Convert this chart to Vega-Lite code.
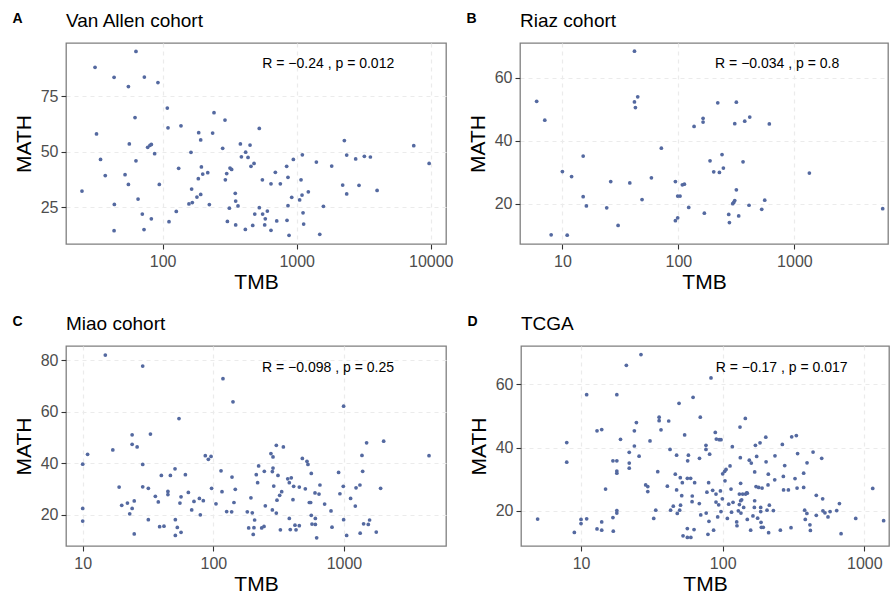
{
"$schema": "https://vega.github.io/schema/vega-lite/v6.json",
"padding": {"left": 12, "top": 11, "right": 0, "bottom": 0},
"background": "white",
"config": {
  "font": "Liberation Sans",
  "view": {"stroke": "#7f7f7f", "strokeWidth": 1.3},
  "axis": {"grid": true, "gridColor": "#EBEBEB", "gridDash": [4, 4], "gridWidth": 1.2, "domain": false, "tickColor": "#333333", "tickSize": 5, "tickWidth": 1.1, "labelFontSize": 16, "labelColor": "#4D4D4D", "titleFontSize": 21, "titleFontWeight": "normal", "titleColor": "#000000"},
  "axisX": {"labelPadding": 4, "titlePadding": 2},
  "axisY": {"labelPadding": 3, "titlePadding": 6},
  "title": {"anchor": "start", "color": "#000000"}
},
"datasets": {
  "A": [{"TMB":25,"MATH":32.2},{"TMB":31.3,"MATH":88.1},{"TMB":32.1,"MATH":58.0},{"TMB":34.4,"MATH":46.5},{"TMB":37.3,"MATH":39.2},{"TMB":43.4,"MATH":83.6},{"TMB":43.6,"MATH":26.2},{"TMB":43.4,"MATH":14.3},{"TMB":52.4,"MATH":39.6},{"TMB":55.5,"MATH":79.4},{"TMB":55.5,"MATH":35.2},{"TMB":56.4,"MATH":53.5},{"TMB":62.2,"MATH":65.4},{"TMB":63.2,"MATH":95.3},{"TMB":63.2,"MATH":45.9},{"TMB":65.5,"MATH":28.6},{"TMB":70.5,"MATH":21.8},{"TMB":72.6,"MATH":14.8},{"TMB":73.0,"MATH":83.7},{"TMB":77.3,"MATH":52.0},{"TMB":80.4,"MATH":52.9},{"TMB":82.3,"MATH":53.3},{"TMB":82.3,"MATH":19.7},{"TMB":87.1,"MATH":49.1},{"TMB":92.2,"MATH":81.2},{"TMB":94.4,"MATH":35.2},{"TMB":108.3,"MATH":69.7},{"TMB":109.6,"MATH":60.8},{"TMB":111.5,"MATH":18.4},{"TMB":126.4,"MATH":23.0},{"TMB":131.6,"MATH":42.5},{"TMB":137,"MATH":61.7},{"TMB":157,"MATH":26.4},{"TMB":162.6,"MATH":49.7},{"TMB":164.5,"MATH":33.1},{"TMB":166.4,"MATH":27.0},{"TMB":180.2,"MATH":29.5},{"TMB":184.5,"MATH":37.8},{"TMB":185.7,"MATH":58.6},{"TMB":192.2,"MATH":30.7},{"TMB":192.2,"MATH":55.3},{"TMB":194.5,"MATH":43.1},{"TMB":199,"MATH":39.9},{"TMB":216.9,"MATH":40.5},{"TMB":223,"MATH":26.1},{"TMB":236,"MATH":58.4},{"TMB":241.6,"MATH":67.6},{"TMB":280.4,"MATH":51.5},{"TMB":291.8,"MATH":64.3},{"TMB":293.5,"MATH":37.3},{"TMB":300.4,"MATH":40.1},{"TMB":304,"MATH":18.5},{"TMB":314.6,"MATH":24.5},{"TMB":318,"MATH":42.6},{"TMB":327,"MATH":42.0},{"TMB":348,"MATH":31.2},{"TMB":350.5,"MATH":27.7},{"TMB":350.5,"MATH":16.9},{"TMB":364.9,"MATH":25.5},{"TMB":380,"MATH":53.5},{"TMB":386.7,"MATH":47.7},{"TMB":414,"MATH":14.9},{"TMB":416,"MATH":49.8},{"TMB":433.5,"MATH":47.4},{"TMB":448.6,"MATH":53.0},{"TMB":456,"MATH":43.4},{"TMB":469.8,"MATH":16.7},{"TMB":480.6,"MATH":44.7},{"TMB":486.5,"MATH":21.8},{"TMB":526,"MATH":60.5},{"TMB":526,"MATH":24.7},{"TMB":554.6,"MATH":37.3},{"TMB":557,"MATH":21.8},{"TMB":577,"MATH":16.9},{"TMB":583,"MATH":19.7},{"TMB":604,"MATH":23.2},{"TMB":643,"MATH":35.5},{"TMB":643,"MATH":14.5},{"TMB":693,"MATH":40.7},{"TMB":709.6,"MATH":18.7},{"TMB":755,"MATH":35.5},{"TMB":841.6,"MATH":43.4},{"TMB":846.6,"MATH":19.0},{"TMB":861,"MATH":38.4},{"TMB":861,"MATH":25.6},{"TMB":877,"MATH":12.2},{"TMB":918,"MATH":29.4},{"TMB":944,"MATH":46.5},{"TMB":1052,"MATH":28.2},{"TMB":1077,"MATH":37.3},{"TMB":1096,"MATH":30.4},{"TMB":1102,"MATH":48.6},{"TMB":1115,"MATH":22.4},{"TMB":1127,"MATH":17.3},{"TMB":1221,"MATH":31.9},{"TMB":1402,"MATH":45.3},{"TMB":1486,"MATH":12.7},{"TMB":1582,"MATH":25.3},{"TMB":1825,"MATH":43.5},{"TMB":2203,"MATH":34.9},{"TMB":2268,"MATH":55.0},{"TMB":2361,"MATH":48.5},{"TMB":2361,"MATH":30.9},{"TMB":2754,"MATH":46.7},{"TMB":2917,"MATH":34.8},{"TMB":3198,"MATH":47.9},{"TMB":3547,"MATH":47.6},{"TMB":3980,"MATH":32.5},{"TMB":7470,"MATH":52.7},{"TMB":9730,"MATH":44.7}],
  "B": [{"TMB":6.0,"MATH":52.6},{"TMB":7.05,"MATH":46.6},{"TMB":8.0,"MATH":10.2},{"TMB":10,"MATH":30.3},{"TMB":11.0,"MATH":10.1},{"TMB":12.0,"MATH":28.7},{"TMB":15.1,"MATH":35.2},{"TMB":15.1,"MATH":22.3},{"TMB":16.1,"MATH":19.4},{"TMB":24.1,"MATH":18.8},{"TMB":26.1,"MATH":27.1},{"TMB":30.2,"MATH":13.2},{"TMB":38.1,"MATH":26.7},{"TMB":41.8,"MATH":68.5},{"TMB":41.8,"MATH":52.4},{"TMB":42.6,"MATH":50.6},{"TMB":44.6,"MATH":54.0},{"TMB":48.6,"MATH":21.4},{"TMB":58.5,"MATH":28.3},{"TMB":71.3,"MATH":37.7},{"TMB":94.2,"MATH":27.1},{"TMB":94.2,"MATH":14.7},{"TMB":98.6,"MATH":15.6},{"TMB":98.6,"MATH":22.5},{"TMB":103.3,"MATH":22.5},{"TMB":108.2,"MATH":26.1},{"TMB":112.6,"MATH":26.3},{"TMB":122.8,"MATH":18.9},{"TMB":136.5,"MATH":44.6},{"TMB":163.2,"MATH":46.0},{"TMB":163.2,"MATH":47.2},{"TMB":167.4,"MATH":17.1},{"TMB":187.4,"MATH":33.7},{"TMB":201.6,"MATH":30.2},{"TMB":218.4,"MATH":52.1},{"TMB":225.8,"MATH":30.0},{"TMB":237.8,"MATH":35.7},{"TMB":244.2,"MATH":31.4},{"TMB":271.6,"MATH":16.7},{"TMB":275.3,"MATH":14.1},{"TMB":294,"MATH":20.1},{"TMB":299.8,"MATH":20.5},{"TMB":306,"MATH":45.5},{"TMB":306,"MATH":21.1},{"TMB":316,"MATH":52.3},{"TMB":316,"MATH":24.5},{"TMB":331,"MATH":16.2},{"TMB":360.8,"MATH":33.4},{"TMB":373,"MATH":46.3},{"TMB":406.5,"MATH":19.6},{"TMB":412,"MATH":47.6},{"TMB":523,"MATH":18.3},{"TMB":555,"MATH":21.2},{"TMB":608,"MATH":45.4},{"TMB":1346,"MATH":29.8},{"TMB":5770,"MATH":18.5}],
  "C": [{"TMB":10,"MATH":17.6},{"TMB":10,"MATH":22.5},{"TMB":10,"MATH":39.7},{"TMB":10.9,"MATH":43.5},{"TMB":14.9,"MATH":82.1},{"TMB":17.0,"MATH":45.2},{"TMB":19.0,"MATH":30.8},{"TMB":19.9,"MATH":23.7},{"TMB":22.0,"MATH":24.6},{"TMB":22.9,"MATH":20.4},{"TMB":23.9,"MATH":51.1},{"TMB":23.9,"MATH":47.4},{"TMB":23.9,"MATH":22.5},{"TMB":24.8,"MATH":25.4},{"TMB":24.8,"MATH":12.6},{"TMB":26.1,"MATH":46.4},{"TMB":28.8,"MATH":77.8},{"TMB":28.8,"MATH":39.6},{"TMB":28.8,"MATH":30.9},{"TMB":31.8,"MATH":30.3},{"TMB":31.8,"MATH":18.1},{"TMB":33.0,"MATH":51.4},{"TMB":36.0,"MATH":27.2},{"TMB":37.9,"MATH":25.0},{"TMB":38.8,"MATH":15.4},{"TMB":40.0,"MATH":35.3},{"TMB":41.9,"MATH":15.6},{"TMB":44.9,"MATH":29.1},{"TMB":44.9,"MATH":27.9},{"TMB":46.9,"MATH":35.3},{"TMB":50.9,"MATH":37.9},{"TMB":51.2,"MATH":12.0},{"TMB":51.2,"MATH":18.1},{"TMB":53.0,"MATH":15.1},{"TMB":54.6,"MATH":57.4},{"TMB":55.5,"MATH":24.6},{"TMB":56.6,"MATH":13.2},{"TMB":56.6,"MATH":27.0},{"TMB":61.1,"MATH":35.6},{"TMB":64.4,"MATH":28.7},{"TMB":68.3,"MATH":21.9},{"TMB":71.1,"MATH":25.2},{"TMB":78.2,"MATH":26.4},{"TMB":79.5,"MATH":20.0},{"TMB":83.8,"MATH":25.5},{"TMB":86.8,"MATH":43.0},{"TMB":91.6,"MATH":41.6},{"TMB":96.0,"MATH":42.7},{"TMB":97.0,"MATH":30.3},{"TMB":104.8,"MATH":24.3},{"TMB":114.5,"MATH":37.1},{"TMB":116.5,"MATH":29.0},{"TMB":118.5,"MATH":72.9},{"TMB":126.5,"MATH":21.3},{"TMB":138.1,"MATH":21.2},{"TMB":139,"MATH":34.7},{"TMB":141.4,"MATH":63.9},{"TMB":143.8,"MATH":24.8},{"TMB":147.3,"MATH":29.9},{"TMB":182,"MATH":21.2},{"TMB":186.4,"MATH":14.9},{"TMB":194,"MATH":26.6},{"TMB":198.7,"MATH":20.8},{"TMB":202,"MATH":12.4},{"TMB":204.6,"MATH":15.0},{"TMB":207,"MATH":18.0},{"TMB":213.2,"MATH":35.6},{"TMB":218.3,"MATH":32.5},{"TMB":222.2,"MATH":39.0},{"TMB":234.4,"MATH":14.9},{"TMB":244.3,"MATH":15.5},{"TMB":245.6,"MATH":36.9},{"TMB":250,"MATH":23.5},{"TMB":276,"MATH":43.8},{"TMB":283,"MATH":36.8},{"TMB":286.3,"MATH":42.5},{"TMB":286.3,"MATH":38.2},{"TMB":290,"MATH":31.2},{"TMB":283,"MATH":21.9},{"TMB":303.5,"MATH":47.0},{"TMB":303.5,"MATH":20.7},{"TMB":307,"MATH":25.7},{"TMB":312.6,"MATH":35.3},{"TMB":322,"MATH":27.6},{"TMB":333.6,"MATH":29.0},{"TMB":326,"MATH":14.2},{"TMB":343.6,"MATH":46.4},{"TMB":371,"MATH":34.0},{"TMB":381.6,"MATH":32.5},{"TMB":381.6,"MATH":18.6},{"TMB":388,"MATH":14.3},{"TMB":395,"MATH":34.4},{"TMB":407,"MATH":25.9},{"TMB":412,"MATH":31.1},{"TMB":421.7,"MATH":16.0},{"TMB":429.5,"MATH":14.2},{"TMB":455,"MATH":30.8},{"TMB":455,"MATH":15.8},{"TMB":480,"MATH":41.9},{"TMB":506,"MATH":30.1},{"TMB":521,"MATH":40.8},{"TMB":530,"MATH":39.6},{"TMB":543,"MATH":24.8},{"TMB":556,"MATH":24.8},{"TMB":562,"MATH":36.1},{"TMB":562,"MATH":19.8},{"TMB":569,"MATH":16.4},{"TMB":600,"MATH":28.5},{"TMB":604,"MATH":18.6},{"TMB":604,"MATH":16.3},{"TMB":618,"MATH":11.1},{"TMB":644,"MATH":28.1},{"TMB":655,"MATH":31.6},{"TMB":711,"MATH":24.2},{"TMB":796,"MATH":21.5},{"TMB":810,"MATH":15.2},{"TMB":910,"MATH":36.5},{"TMB":931,"MATH":28.2},{"TMB":988,"MATH":31.1},{"TMB":994,"MATH":62.2},{"TMB":994,"MATH":18.1},{"TMB":1048,"MATH":12.0},{"TMB":1124,"MATH":26.4},{"TMB":1221,"MATH":23.4},{"TMB":1237,"MATH":30.5},{"TMB":1325,"MATH":31.6},{"TMB":1330,"MATH":12.9},{"TMB":1373,"MATH":43.1},{"TMB":1390,"MATH":36.9},{"TMB":1414,"MATH":16.5},{"TMB":1490,"MATH":48.0},{"TMB":1535,"MATH":16.3},{"TMB":1571,"MATH":18.0},{"TMB":1767,"MATH":13.3},{"TMB":1908,"MATH":30.3},{"TMB":2013,"MATH":48.6},{"TMB":4478,"MATH":43.0}],
  "D": [{"TMB":4.94,"MATH":17.4},{"TMB":7.93,"MATH":41.6},{"TMB":7.93,"MATH":35.4},{"TMB":8.97,"MATH":13.2},{"TMB":10,"MATH":17.3},{"TMB":10,"MATH":16.0},{"TMB":10.96,"MATH":56.7},{"TMB":10.96,"MATH":17.5},{"TMB":12.97,"MATH":45.3},{"TMB":12.97,"MATH":14.3},{"TMB":14.0,"MATH":45.7},{"TMB":14.0,"MATH":16.5},{"TMB":14.0,"MATH":13.9},{"TMB":14.9,"MATH":26.9},{"TMB":16.8,"MATH":35.8},{"TMB":16.8,"MATH":17.9},{"TMB":16.9,"MATH":13.6},{"TMB":17.9,"MATH":56.7},{"TMB":17.9,"MATH":35.8},{"TMB":17.9,"MATH":32.6},{"TMB":17.9,"MATH":31.9},{"TMB":17.9,"MATH":20.1},{"TMB":17.9,"MATH":19.3},{"TMB":19.0,"MATH":42.6},{"TMB":20.9,"MATH":66.0},{"TMB":21.9,"MATH":38.5},{"TMB":21.9,"MATH":35.1},{"TMB":21.9,"MATH":33.5},{"TMB":23.8,"MATH":40.5},{"TMB":23.8,"MATH":45.3},{"TMB":24.6,"MATH":47.9},{"TMB":25.7,"MATH":37.3},{"TMB":26.5,"MATH":69.4},{"TMB":28.6,"MATH":28.2},{"TMB":29.6,"MATH":27.7},{"TMB":29.6,"MATH":26.1},{"TMB":30.7,"MATH":42.1},{"TMB":32.6,"MATH":17.6},{"TMB":33.7,"MATH":20.2},{"TMB":34.8,"MATH":32.4},{"TMB":35.6,"MATH":49.6},{"TMB":35.6,"MATH":48.5},{"TMB":36.7,"MATH":45.6},{"TMB":40.7,"MATH":27.8},{"TMB":41.6,"MATH":48.4},{"TMB":42.5,"MATH":39.4},{"TMB":42.9,"MATH":20.2},{"TMB":44.8,"MATH":21.5},{"TMB":46.3,"MATH":31.6},{"TMB":47.3,"MATH":26.6},{"TMB":47.3,"MATH":37.6},{"TMB":47.8,"MATH":19.2},{"TMB":49.2,"MATH":54.0},{"TMB":49.7,"MATH":20.2},{"TMB":50.2,"MATH":30.5},{"TMB":50.4,"MATH":21.8},{"TMB":51.4,"MATH":24.8},{"TMB":51.9,"MATH":28.9},{"TMB":52.5,"MATH":12.1},{"TMB":53.9,"MATH":44.0},{"TMB":56.3,"MATH":30.3},{"TMB":56.3,"MATH":11.6},{"TMB":56.6,"MATH":35.8},{"TMB":57.3,"MATH":37.6},{"TMB":56.3,"MATH":14.4},{"TMB":59.4,"MATH":30.3},{"TMB":59.6,"MATH":11.6},{"TMB":60.8,"MATH":22.9},{"TMB":61.0,"MATH":24.7},{"TMB":61.8,"MATH":55.9},{"TMB":62.8,"MATH":14.1},{"TMB":63.4,"MATH":28.9},{"TMB":68.4,"MATH":22.3},{"TMB":68.6,"MATH":36.6},{"TMB":69.5,"MATH":49.6},{"TMB":70.0,"MATH":18.7},{"TMB":76.2,"MATH":40.7},{"TMB":76.2,"MATH":39.4},{"TMB":76.5,"MATH":19.3},{"TMB":77.4,"MATH":25.9},{"TMB":78.7,"MATH":12.6},{"TMB":79.6,"MATH":28.9},{"TMB":80.0,"MATH":16.7},{"TMB":80.9,"MATH":37.9},{"TMB":82.7,"MATH":62.0},{"TMB":85.0,"MATH":26.5},{"TMB":86.3,"MATH":13.9},{"TMB":88.7,"MATH":44.8},{"TMB":89.7,"MATH":25.3},{"TMB":89.7,"MATH":22.8},{"TMB":90.2,"MATH":42.7},{"TMB":92.2,"MATH":18.1},{"TMB":93.7,"MATH":21.9},{"TMB":94.6,"MATH":42.5},{"TMB":97.3,"MATH":42.5},{"TMB":96.4,"MATH":26.3},{"TMB":97.3,"MATH":19.8},{"TMB":99.5,"MATH":23.8},{"TMB":100,"MATH":31.7},{"TMB":103.3,"MATH":32.5},{"TMB":103.8,"MATH":29.5},{"TMB":105.6,"MATH":33.1},{"TMB":107.9,"MATH":17.6},{"TMB":110.3,"MATH":22.1},{"TMB":112.7,"MATH":34.2},{"TMB":114.5,"MATH":26.9},{"TMB":115.5,"MATH":19.6},{"TMB":117,"MATH":40.3},{"TMB":118.3,"MATH":22.7},{"TMB":125.6,"MATH":16.5},{"TMB":126.2,"MATH":15.3},{"TMB":129.0,"MATH":20.0},{"TMB":131.2,"MATH":22.0},{"TMB":131.2,"MATH":25.3},{"TMB":132.5,"MATH":46.5},{"TMB":133.2,"MATH":36.8},{"TMB":133.9,"MATH":23.2},{"TMB":133.9,"MATH":28.7},{"TMB":134.6,"MATH":19.3},{"TMB":136.1,"MATH":23.5},{"TMB":138.4,"MATH":25.3},{"TMB":140.6,"MATH":21.1},{"TMB":144.5,"MATH":49.2},{"TMB":145.2,"MATH":25.3},{"TMB":147.6,"MATH":25.7},{"TMB":149.2,"MATH":25.6},{"TMB":149.2,"MATH":17.3},{"TMB":154.2,"MATH":36.0},{"TMB":157.6,"MATH":13.9},{"TMB":159.2,"MATH":35.1},{"TMB":163.6,"MATH":18.4},{"TMB":167.3,"MATH":21.1},{"TMB":168.2,"MATH":32.3},{"TMB":168.2,"MATH":23.2},{"TMB":170.3,"MATH":40.7},{"TMB":172,"MATH":27.7},{"TMB":173.8,"MATH":37.2},{"TMB":176.5,"MATH":17.7},{"TMB":179.5,"MATH":27.4},{"TMB":183.5,"MATH":41.5},{"TMB":185.5,"MATH":19.8},{"TMB":185.5,"MATH":21.1},{"TMB":186.5,"MATH":16.4},{"TMB":187.5,"MATH":14.8},{"TMB":189.7,"MATH":27.2},{"TMB":193.4,"MATH":14.8},{"TMB":201.5,"MATH":43.3},{"TMB":202.5,"MATH":35.5},{"TMB":205.6,"MATH":20.2},{"TMB":209,"MATH":28.2},{"TMB":210,"MATH":31.6},{"TMB":211,"MATH":13.1},{"TMB":213.5,"MATH":21.8},{"TMB":228,"MATH":20.1},{"TMB":233,"MATH":29.8},{"TMB":234,"MATH":37.4},{"TMB":255.4,"MATH":13.9},{"TMB":263.7,"MATH":41.0},{"TMB":268,"MATH":30.9},{"TMB":269,"MATH":26.6},{"TMB":274,"MATH":34.3},{"TMB":291,"MATH":26.6},{"TMB":303.7,"MATH":14.7},{"TMB":307,"MATH":43.4},{"TMB":324,"MATH":30.2},{"TMB":331,"MATH":43.8},{"TMB":335,"MATH":27.2},{"TMB":338,"MATH":38.1},{"TMB":373,"MATH":27.4},{"TMB":373,"MATH":31.9},{"TMB":379,"MATH":20.2},{"TMB":383,"MATH":17.3},{"TMB":393,"MATH":19.2},{"TMB":394,"MATH":35.2},{"TMB":413,"MATH":15.6},{"TMB":416,"MATH":13.8},{"TMB":434.5,"MATH":38.6},{"TMB":458,"MATH":24.9},{"TMB":458,"MATH":18.6},{"TMB":500,"MATH":36.6},{"TMB":508,"MATH":23.8},{"TMB":510,"MATH":20.0},{"TMB":527,"MATH":19.4},{"TMB":554,"MATH":18.1},{"TMB":573,"MATH":19.8},{"TMB":638,"MATH":20.1},{"TMB":667,"MATH":22.3},{"TMB":685,"MATH":12.8},{"TMB":869,"MATH":17.6},{"TMB":1146,"MATH":27.1},{"TMB":1368,"MATH":16.9}]
},
"spacing": 21,
"vconcat": [
 {"hconcat": [
  {"title": {"text": "A", "frame": "bounds", "fontSize": 14, "fontWeight": "bold", "offset": -15},
   "vconcat": [{
    "width": 380, "height": 201,
    "title": {"text": "Van Allen cohort", "frame": "group", "fontSize": 19, "fontWeight": "normal", "offset": 12},
    "layer": [
     {"data": {"name": "A"}, "mark": {"type": "circle", "size": 14, "color": "#5469A0", "opacity": 1},
      "encoding": {"x": {"field": "TMB", "type": "quantitative", "scale": {"type": "log", "domain": [19, 13000], "nice": false}, "axis": {"values": [100, 1000, 10000], "format": "d", "title": "TMB"}},
                   "y": {"field": "MATH", "type": "quantitative", "scale": {"domain": [8.3, 99.1], "nice": false, "zero": false}, "axis": {"values": [25, 50, 75], "title": "MATH"}}}},
     {"data": {"values": [{"TMB": 1720, "MATH": 87.6, "label": "R = −0.24 , p = 0.012"}]}, "mark": {"type": "text", "fontSize": 14, "baseline": "alphabetic", "align": "center", "color": "#000000"},
      "encoding": {"x": {"field": "TMB", "type": "quantitative"}, "y": {"field": "MATH", "type": "quantitative"}, "text": {"field": "label"}}}
    ]}]},
  {"title": {"text": "B", "frame": "bounds", "fontSize": 14, "fontWeight": "bold", "offset": -15},
   "vconcat": [{
    "width": 368, "height": 201,
    "title": {"text": "Riaz cohort", "frame": "group", "fontSize": 19, "fontWeight": "normal", "offset": 12},
    "layer": [
     {"data": {"name": "B"}, "mark": {"type": "circle", "size": 14, "color": "#5469A0", "opacity": 1},
      "encoding": {"x": {"field": "TMB", "type": "quantitative", "scale": {"type": "log", "domain": [4.31, 6410], "nice": false}, "axis": {"values": [10, 100, 1000], "format": "d", "title": "TMB"}},
                   "y": {"field": "MATH", "type": "quantitative", "scale": {"domain": [7.3, 71.1], "nice": false, "zero": false}, "axis": {"values": [20, 40, 60], "title": "MATH"}}}},
     {"data": {"values": [{"TMB": 710, "MATH": 63.1, "label": "R = −0.034 , p = 0.8"}]}, "mark": {"type": "text", "fontSize": 14, "baseline": "alphabetic", "align": "center", "color": "#000000"},
      "encoding": {"x": {"field": "TMB", "type": "quantitative"}, "y": {"field": "MATH", "type": "quantitative"}, "text": {"field": "label"}}}
    ]}]}
 ], "spacing": 12},
 {"hconcat": [
  {"title": {"text": "C", "frame": "bounds", "fontSize": 14, "fontWeight": "bold", "offset": -15},
   "vconcat": [{
    "width": 380, "height": 200,
    "title": {"text": "Miao cohort", "frame": "group", "fontSize": 19, "fontWeight": "normal", "offset": 12},
    "layer": [
     {"data": {"name": "C"}, "mark": {"type": "circle", "size": 14, "color": "#5469A0", "opacity": 1},
      "encoding": {"x": {"field": "TMB", "type": "quantitative", "scale": {"type": "log", "domain": [7.45, 6040], "nice": false}, "axis": {"values": [10, 100, 1000], "format": "d", "title": "TMB"}},
                   "y": {"field": "MATH", "type": "quantitative", "scale": {"domain": [7.9, 85.6], "nice": false, "zero": false}, "axis": {"values": [20, 40, 60, 80], "title": "MATH"}}}},
     {"data": {"values": [{"TMB": 755, "MATH": 75.6, "label": "R = −0.098 , p = 0.25"}]}, "mark": {"type": "text", "fontSize": 14, "baseline": "alphabetic", "align": "center", "color": "#000000"},
      "encoding": {"x": {"field": "TMB", "type": "quantitative"}, "y": {"field": "MATH", "type": "quantitative"}, "text": {"field": "label"}}}
    ]}]},
  {"title": {"text": "D", "frame": "bounds", "fontSize": 14, "fontWeight": "bold", "offset": -15},
   "vconcat": [{
    "width": 368, "height": 200,
    "title": {"text": "TCGA", "frame": "group", "fontSize": 19, "fontWeight": "normal", "offset": 12},
    "layer": [
     {"data": {"name": "D"}, "mark": {"type": "circle", "size": 14, "color": "#5469A0", "opacity": 1},
      "encoding": {"x": {"field": "TMB", "type": "quantitative", "scale": {"type": "log", "domain": [3.77, 1493], "nice": false}, "axis": {"values": [10, 100, 1000], "format": "d", "title": "TMB"}},
                   "y": {"field": "MATH", "type": "quantitative", "scale": {"domain": [8.9, 72.1], "nice": false, "zero": false}, "axis": {"values": [20, 40, 60], "title": "MATH"}}}},
     {"data": {"values": [{"TMB": 260.6, "MATH": 64.0, "label": "R = −0.17 , p = 0.017"}]}, "mark": {"type": "text", "fontSize": 14, "baseline": "alphabetic", "align": "center", "color": "#000000"},
      "encoding": {"x": {"field": "TMB", "type": "quantitative"}, "y": {"field": "MATH", "type": "quantitative"}, "text": {"field": "label"}}}
    ]}]}
 ], "spacing": 20}
]
}
